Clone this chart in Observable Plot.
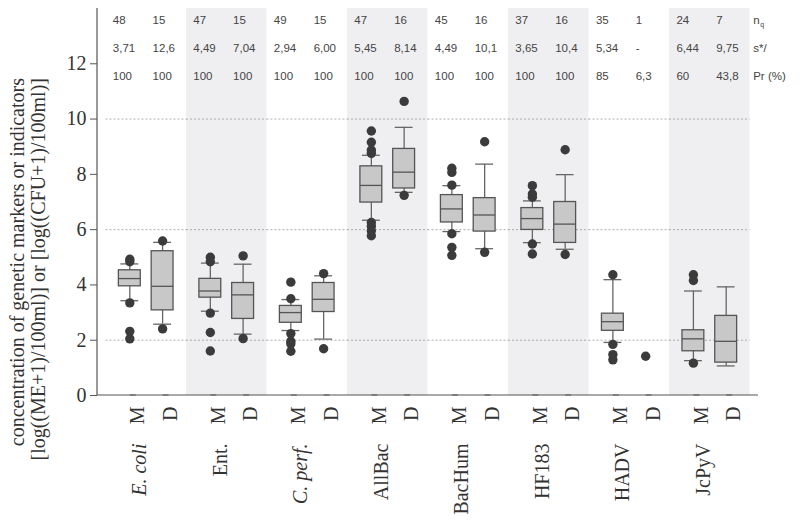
<!DOCTYPE html>
<html>
<head>
<meta charset="utf-8">
<script src="https://cdn.jsdelivr.net/npm/d3@7"></script>
<script src="https://cdn.jsdelivr.net/npm/@observablehq/plot@0.6"></script>
<style>
  html, body { margin: 0; padding: 0; background: #fff; }
</style>
</head>
<body>
<div id="chart"></div>
<script>
// ---------- data ----------
const groups = ["E. coli", "Ent.", "C. perf.", "AllBac", "BacHum", "HF183", "HADV", "JcPyV"];
const italicGroups = ["E. coli", "C. perf."];
const shadedGroups = ["Ent.", "AllBac", "HF183", "JcPyV"];
const sites = ["M", "D"];

// box statistics, order: group x site (M, D)
const lowerWhisker = [3.43, 2.58, 3.05, 2.22, 2.35, 2.04, 6.34, 7.35, 5.93, 5.31, 5.53, 5.29, 1.92, null, 1.26, 1.07];
const q1           = [3.95, 3.08, 3.54, 2.77, 2.63, 3.02, 6.98, 7.49, 6.26, 5.93, 5.99, 5.52, 2.34, null, 1.60, 1.19];
const median       = [4.23, 3.95, 3.78, 3.64, 3.00, 3.48, 7.60, 8.08, 6.75, 6.53, 6.40, 6.20, 2.67, null, 2.05, 1.96];
const q3           = [4.53, 5.22, 4.22, 4.07, 3.24, 4.07, 8.29, 8.92, 7.25, 7.14, 6.78, 7.00, 2.96, null, 2.36, 2.88];
const upperWhisker = [4.76, 5.54, 4.79, 4.75, 3.47, 4.33, 8.69, 9.70, 7.59, 8.37, 7.04, 7.99, 4.19, null, 3.78, 3.93];
const outliers = [
  [4.93, 4.84, 3.35, 2.32, 2.05], [5.59, 2.41],
  [5.00, 4.84, 2.98, 2.28, 1.61], [5.05, 2.06],
  [4.10, 3.50, 2.24, 1.96, 1.87, 1.60], [4.41, 1.69],
  [9.57, 9.16, 8.88, 8.76, 6.26, 6.12, 5.96, 5.78], [10.64, 7.24],
  [8.22, 8.07, 7.61, 5.85, 5.36, 5.07], [9.18, 5.18],
  [7.59, 7.29, 7.17, 5.48, 5.12], [8.89, 5.10],
  [4.37, 1.85, 1.48, 1.29], [1.42],
  [4.37, 4.16, 1.17], []
];

// table on top
const nq = ["48", "15", "47", "15", "49", "15", "47", "16", "45", "16", "37", "16", "35", "1", "24", "7"];
const sRatio = ["3,71", "12,6", "4,49", "7,04", "2,94", "6,00", "5,45", "8,14", "4,49", "10,1", "3,65", "10,4", "5,34", "-", "6,44", "9,75"];
const prevalence = ["100", "100", "100", "100", "100", "100", "100", "100", "100", "100", "100", "100", "85", "6,3", "60", "43,8"];
const rowLabels = ["n", "s*/", "Pr (%)"];
const rowLabelSub = ["q", "", ""];

const yDomain = [0, 14];
const yTicks = [0, 2, 4, 6, 8, 10, 12];
const gridValues = [2, 6, 10];
const yLabelLines = ["concentration of genetic markers or indicators", "[log((ME+1)/100ml)] or [log((CFU+1)/100ml)]"];

// ---------- derived tables ----------
const boxes = [];
const outlierRows = [];
const cells = [];
groups.forEach((g, gi) => sites.forEach((s, si) => {
  const i = gi * 2 + si;
  if (q1[i] != null) boxes.push({group: g, site: s, lo: lowerWhisker[i], q1: q1[i], med: median[i], q3: q3[i], hi: upperWhisker[i]});
  outliers[i].forEach(v => outlierRows.push({group: g, site: s, value: v}));
  cells.push({group: g, site: s, rows: [nq[i], sRatio[i], prevalence[i]]});
}));

// ---------- layout ----------
const W = 800, H = 523;
const ML = 97, MR = 42, MT = 8, MB = 128;
const FXPO = 0.105;
const fxStep = (W - ML - MR) / (groups.length + 2 * FXPO);
const leftGap = FXPO * fxStep;

const SERIF = "'Liberation Serif', 'Times New Roman', serif";
const SANS = "'Liberation Sans', Arial, sans-serif";
const rowDy = [12, 40, 68];
const lastGroup = groups[groups.length - 1];

const tableMarks = [];
rowDy.forEach((dy, r) => {
  sites.forEach(s => {
    tableMarks.push(Plot.text(cells.filter(c => c.site === s), {
      fx: "group", x: "site", text: c => c.rows[r], frameAnchor: "top", dy,
      dx: s === "M" ? -17 : -10, textAnchor: "start", lineAnchor: "middle",
      fontFamily: SANS, fontSize: 11.5, fill: "#444"
    }));
  });
});
rowLabels.forEach((lab, r) => {
  tableMarks.push(Plot.text([lab], {
    fx: () => lastGroup, x: () => "D", text: d => d, frameAnchor: "top",
    dy: rowDy[r], dx: 27, textAnchor: "start", lineAnchor: "middle",
    fontFamily: SANS, fontSize: 11.5, fill: "#444"
  }));
  if (rowLabelSub[r]) {
    tableMarks.push(Plot.text([rowLabelSub[r]], {
      fx: () => lastGroup, x: () => "D", text: d => d, frameAnchor: "top",
      dy: rowDy[r] + 4, dx: 34, textAnchor: "start", lineAnchor: "middle",
      fontFamily: SANS, fontSize: 7, fill: "#444"
    }));
  }
});

const chart = Plot.plot({
  width: W, height: H,
  marginLeft: ML, marginRight: MR, marginTop: MT, marginBottom: MB,
  style: {fontFamily: SERIF, fontSize: "20px", color: "#333", background: "white", overflow: "visible"},
  fx: {domain: groups, paddingInner: 0, paddingOuter: FXPO, round: false, axis: null, label: null},
  x: {domain: sites, paddingInner: 0.333, paddingOuter: 0.394, round: false, label: null},
  y: {domain: yDomain, label: null},
  marks: [
    Plot.barY(shadedGroups, {fx: d => d, y1: () => yDomain[0], y2: () => yDomain[1], fill: "#efeff1"}),
    Plot.ruleY(gridValues, {stroke: "#999", strokeWidth: 0.8, strokeDasharray: "2,2"}),
    Plot.axisY({ticks: yTicks, tickSize: 7, tickPadding: 4, dx: -leftGap, fontSize: 20, label: null, stroke: "#555", fill: "#333"}),
    Plot.axisX({anchor: "bottom", tickSize: 6, tickPadding: 5, rotate: -90, textAnchor: "end", fontSize: 20, label: null, stroke: "#555", fill: "#333"}),
    // whiskers
    Plot.ruleX(boxes, {fx: "group", x: "site", y1: "lo", y2: "hi", stroke: "#666", strokeWidth: 1.3}),
    Plot.tickY(boxes, {fx: "group", x: "site", y: "lo", stroke: "#666", strokeWidth: 1.3, inset: 2}),
    Plot.tickY(boxes, {fx: "group", x: "site", y: "hi", stroke: "#666", strokeWidth: 1.3, inset: 2}),
    // boxes
    Plot.barY(boxes, {fx: "group", x: "site", y1: "q1", y2: "q3", fill: "#c8c8c8", stroke: "#555", strokeWidth: 1.3}),
    Plot.tickY(boxes, {fx: "group", x: "site", y: "med", stroke: "#555", strokeWidth: 1.3}),
    // outliers
    Plot.dot(outlierRows, {fx: "group", x: "site", y: "value", r: 4.7, fill: "#3b3b3b"}),
    // group labels
    Plot.text(groups.filter(g => !italicGroups.includes(g)), {fx: d => d, text: d => d, frameAnchor: "bottom", rotate: -90, textAnchor: "end", dy: 48, fontSize: 20, fill: "#333"}),
    Plot.text(groups.filter(g => italicGroups.includes(g)), {fx: d => d, text: d => d, frameAnchor: "bottom", rotate: -90, textAnchor: "end", dy: 48, fontSize: 20, fontStyle: "italic", fill: "#333"}),
    ...tableMarks
  ]
});

const svg = d3.select(chart);
// axis lines along the frame edges
svg.append("line").attr("x1", ML).attr("x2", ML).attr("y1", MT).attr("y2", H - MB)
  .attr("stroke", "#555").attr("stroke-width", 1.2);
svg.append("line").attr("x1", ML).attr("x2", W - MR).attr("y1", H - MB).attr("y2", H - MB)
  .attr("stroke", "#555").attr("stroke-width", 1.2);
// y axis title (two lines, rotated, end-anchored near the top)
const yLabelBaselines = [23.5, 45];
yLabelLines.forEach((line, i) => {
  svg.append("text")
    .attr("transform", `translate(${yLabelBaselines[i]},78) rotate(-90)`)
    .attr("text-anchor", "end")
    .attr("font-family", SERIF).attr("font-size", 20).attr("fill", "#333")
    .text(line);
});

document.getElementById("chart").appendChild(chart);
</script>
</body>
</html>
